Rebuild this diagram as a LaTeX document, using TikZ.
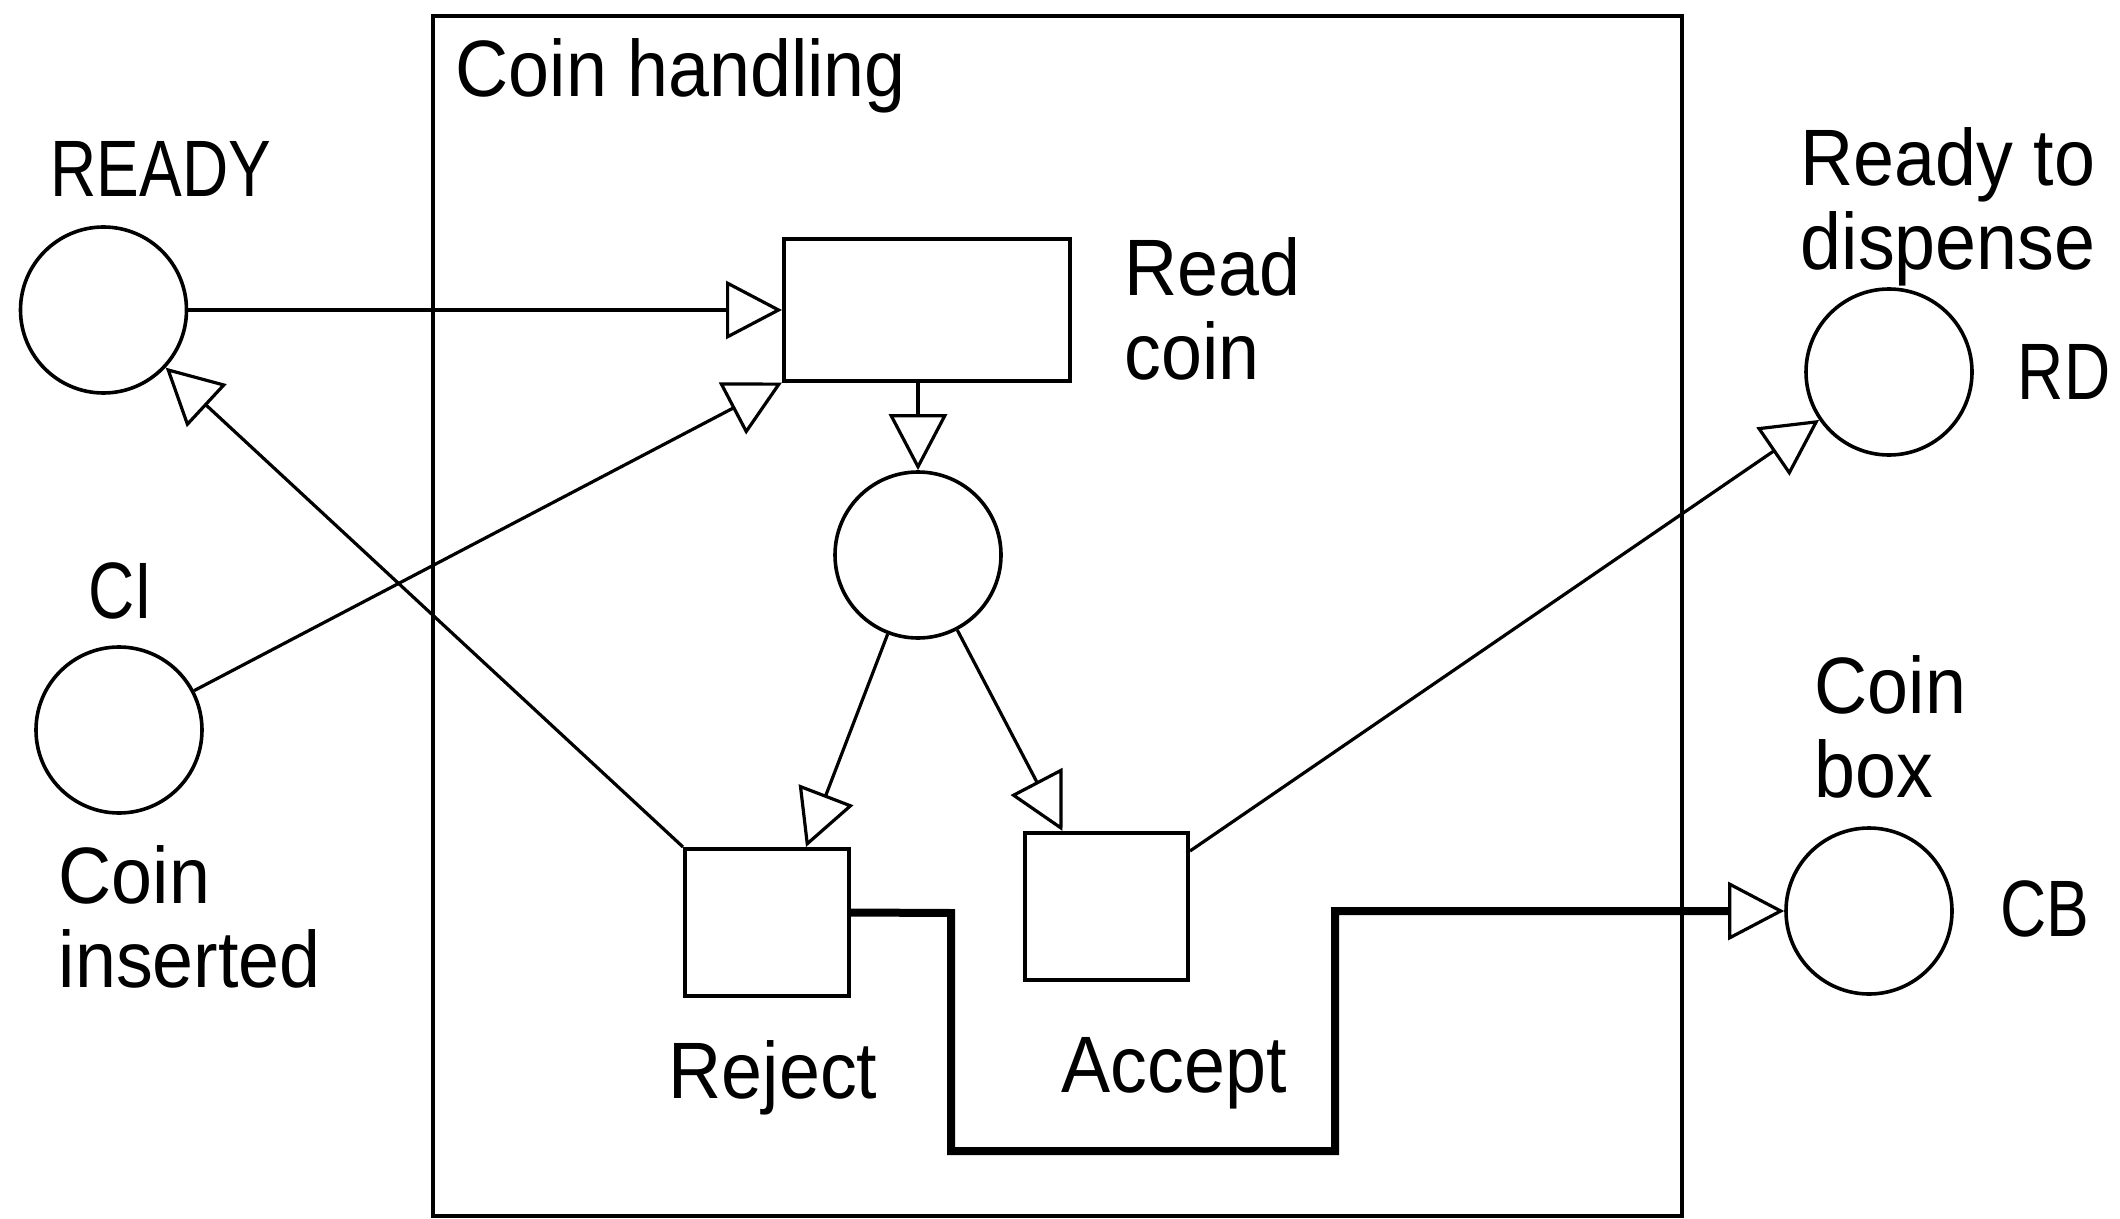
\documentclass[tikz,border=0pt]{standalone}
\usepackage{fontspec}
\setmainfont[FakeStretch=0.92]{Liberation Sans}
\newfontfamily\capfont[FakeStretch=0.8]{Liberation Sans}
\usetikzlibrary{arrows.meta,calc}
\tikzset{
  placebox/.style={circle,draw,line width=0.9pt,minimum size=41.5pt,inner sep=0pt},
  transbox/.style={rectangle,draw,line width=1pt,inner sep=0pt},
  lbl/.style={font=\fontsize{20}{21}\selectfont,inner sep=0pt,align=left},
  caplbl/.style={font=\capfont\fontsize{20}{21}\selectfont,inner sep=0pt},
  flow/.style={line width=0.8pt,-{Triangle[open,length=14pt,width=14.5pt,line width=0.8pt]}},
}
\begin{document}
\begin{tikzpicture}[x=0.25pt,y=-0.25pt]
\path[use as bounding box,fill=white] (0,0) rectangle (2120,1219);
% outer box
\node[transbox,minimum width=312.25pt,minimum height=300pt] (ch) at (1057.5,616) {};
\node[lbl,anchor=base west] (chl) at (455,97) {Coin handling};
% places
\node[placebox] (ready) at (103.5,310) {};
\node[caplbl,anchor=base] (readyl) at (161,196) {READY};
\node[placebox] (ci) at (119,730) {};
\node[caplbl,anchor=base] (cil) at (120,618) {CI};
\node[lbl,anchor=north west] (cinl) at (58,845) {Coin\\inserted};
\node[placebox] (mid) at (918,555) {};
\node[placebox] (rd) at (1889,372) {};
\node[lbl,anchor=north west] (rdl) at (1800,127) {Ready to\\dispense};
\node[caplbl,anchor=base] (rdn) at (2064,399) {RD};
\node[placebox] (cb) at (1869,911) {};
\node[lbl,anchor=north west] (cbl) at (1814,655) {Coin\\box};
\node[caplbl,anchor=base] (cbn) at (2045,936) {CB};
% transitions
\node[transbox,minimum width=71.5pt,minimum height=35.25pt] (rc) at (927,310) {};
\node[lbl,anchor=north west] (rcl) at (1124,237) {Read\\coin};
\node[transbox,minimum width=41pt,minimum height=36.75pt] (rej) at (767,922.5) {};
\node[lbl,anchor=base] (rejl) at (773,1098) {Reject};
\node[transbox,minimum width=40.75pt,minimum height=36.75pt] (acc) at (1106.5,906.5) {};
\node[lbl,anchor=base] (accl) at (1174,1092) {Accept};
% connectors
\draw[flow,line width=1pt] (ready.east) -- (rc.west);
\draw[flow] (ci) -- (rc.south west);
\draw[flow] (rej.north west) -- (ready);
\draw[flow,line width=1pt] (rc.south -| mid.north) -- (mid.north);
\draw[flow] (mid) -- ([xshift=9.75pt]rej.north);
\draw[flow] (mid) -- ([xshift=-11pt]acc.north);
\draw[flow] ([yshift=-5pt]acc.north east) -- (rd);
\draw[flow,line width=2pt] ([yshift=2.5pt]rej.east) -- (951,913) -- (951,1151) -- (1335,1151) -- (1335,911) -- (cb.west);
\end{tikzpicture}
\end{document}
